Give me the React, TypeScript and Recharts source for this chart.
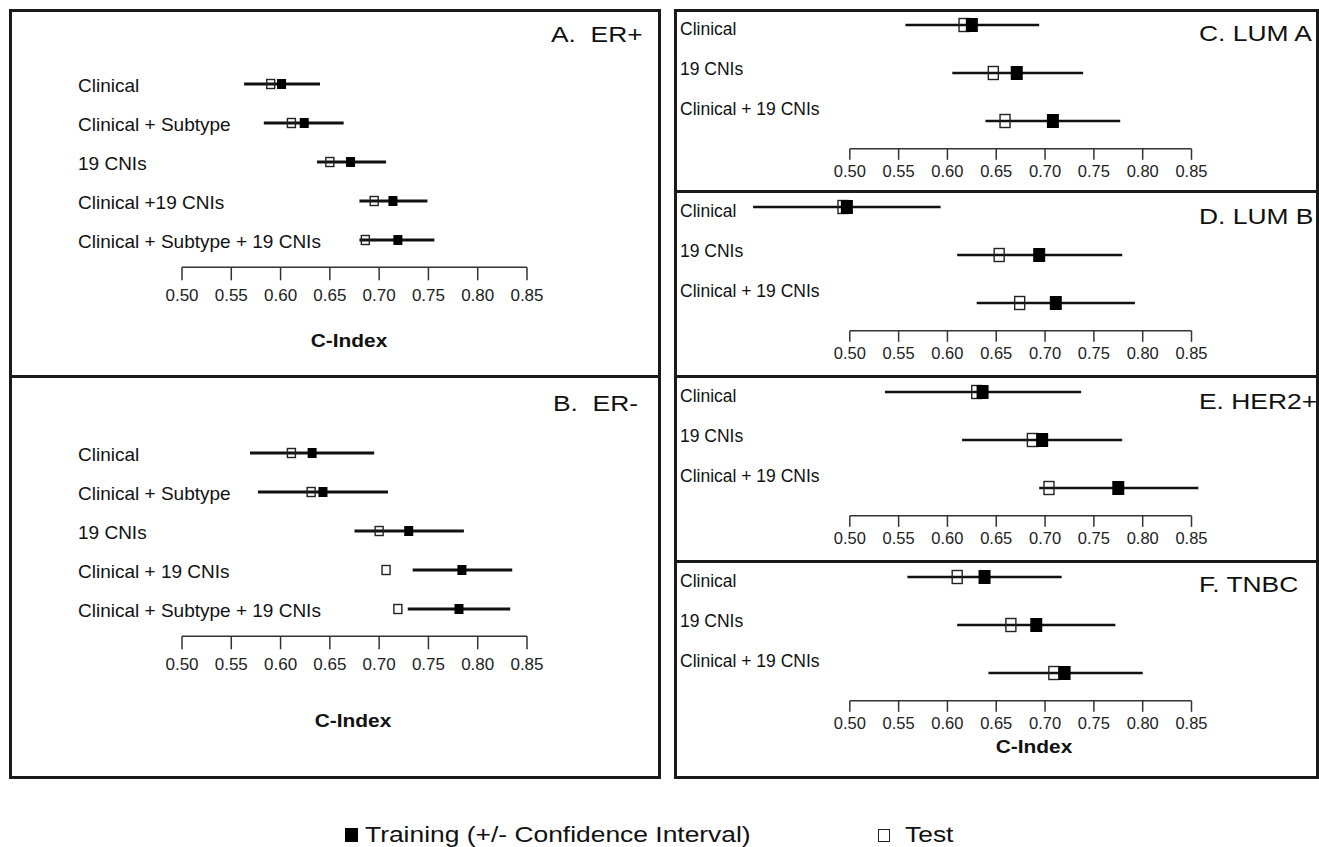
import React from "react"
import { ScatterChart, Scatter, XAxis, YAxis, ErrorBar, ReferenceLine } from "recharts"

const FONT = '"Liberation Sans", Arial, Helvetica, sans-serif'
const INK = "#1a1a1a"

const cTicks = [0.5, 0.55, 0.6, 0.65, 0.7, 0.75, 0.8, 0.85]

// A. ER+
const erPosRows = ["Clinical", "Clinical + Subtype", "19 CNIs", "Clinical +19 CNIs", "Clinical + Subtype + 19 CNIs"]
const erPosTrain = [0.601, 0.624, 0.671, 0.714, 0.719]
const erPosLow = [0.563, 0.583, 0.637, 0.68, 0.68]
const erPosHigh = [0.64, 0.664, 0.707, 0.749, 0.756]
const erPosTest = [0.59, 0.611, 0.65, 0.695, 0.686]

// B. ER-
const erNegRows = ["Clinical", "Clinical + Subtype", "19 CNIs", "Clinical + 19 CNIs", "Clinical + Subtype + 19 CNIs"]
const erNegTrain = [0.632, 0.643, 0.73, 0.784, 0.781]
const erNegLow = [0.569, 0.577, 0.675, 0.734, 0.729]
const erNegHigh = [0.695, 0.709, 0.786, 0.835, 0.833]
const erNegTest = [0.611, 0.631, 0.7, 0.707, 0.719]

// subtype panels share the row labels
const subRows = ["Clinical", "19 CNIs", "Clinical + 19 CNIs"]

// C. LUM A
const lumATrain = [0.625, 0.671, 0.708]
const lumALow = [0.557, 0.605, 0.639]
const lumAHigh = [0.694, 0.739, 0.777]
const lumATest = [0.617, 0.647, 0.659]

// D. LUM B
const lumBTrain = [0.497, 0.694, 0.711]
const lumBLow = [0.401, 0.61, 0.63]
const lumBHigh = [0.593, 0.779, 0.792]
const lumBTest = [0.493, 0.653, 0.674]

// E. HER2+
const her2Train = [0.636, 0.697, 0.775]
const her2Low = [0.536, 0.615, 0.694]
const her2High = [0.737, 0.779, 0.857]
const her2Test = [0.63, 0.687, 0.704]

// F. TNBC
const tnbcTrain = [0.638, 0.691, 0.72]
const tnbcLow = [0.559, 0.61, 0.642]
const tnbcHigh = [0.717, 0.772, 0.8]
const tnbcTest = [0.61, 0.665, 0.709]

// geometry of the two columns (page pixels)
const leftCol = { x: 10, w: 650, axis0: 182, perUnit: 985.7, domain: [0.4, 0.95], labelX: 78 }
const rightCol = { x: 675, w: 642, axis0: 849.8, perUnit: 976.3, domain: [0.35, 0.9], labelX: 680 }

type Col = typeof leftCol

type PanelProps = {
  col: Col
  top: number
  height: number
  rows: string[]
  train: number[]
  low: number[]
  high: number[]
  test: number[]
  title: string
  titleX: number
  titleBase: number
  row0: number
  spacing: number
  yDomain: [number, number]
  axisH: number
  labelSize: number
  labelShift: (i: number) => number
  tickSize: number
  tickGap: number
  tickFont: number
  sq: { ow: number; oh: number; fw: number; fh: number }
  lineW: number
  cIndex?: { x: number; base: number }
}

function ForestPanel(p: PanelProps) {
  const { col } = p
  const plotLeft = col.axis0 - col.x + (col.domain[0] - 0.5) * col.perUnit
  const plotRight = col.axis0 - col.x + (col.domain[1] - 0.5) * col.perUnit
  const plotH = (p.yDomain[1] - p.yDomain[0]) * p.spacing
  const marginTop = p.row0 + p.yDomain[0] * p.spacing
  const marginBottom = p.height - marginTop - plotH - p.axisH

  const trainData = p.rows.map((_, i) => ({
    row: i,
    c: p.train[i],
    ci: [p.train[i] - p.low[i], p.high[i] - p.train[i]],
  }))
  const testData = p.rows.map((_, i) => ({ row: i, c: p.test[i] }))

  const renderLabel = (props: any) => {
    const i = props.payload.value
    return (
      <text
        x={col.labelX - col.x}
        y={props.y + p.labelShift(i)}
        dy="0.36em"
        textAnchor="start"
        fontSize={p.labelSize}
        fontFamily={FONT}
        fill="#111"
      >
        {p.rows[i]}
      </text>
    )
  }

  const hollow = (props: any) => (
    <rect
      x={props.cx - p.sq.ow / 2}
      y={props.cy - p.sq.oh / 2}
      width={p.sq.ow}
      height={p.sq.oh}
      fill="none"
      stroke="#222"
      strokeWidth={1.4}
    />
  )
  const filled = (props: any) => (
    <rect
      x={props.cx - p.sq.fw / 2}
      y={props.cy - p.sq.fh / 2}
      width={p.sq.fw}
      height={p.sq.fh}
      fill="#000"
    />
  )

  return (
    <div style={{ position: "absolute", left: col.x, top: p.top, width: col.w, height: p.height }}>
      <ScatterChart
        width={col.w}
        height={p.height}
        margin={{ top: marginTop, right: col.w - plotRight, bottom: marginBottom, left: 0 }}
      >
        <XAxis
          type="number"
          dataKey="c"
          domain={col.domain}
          ticks={cTicks}
          interval={0}
          tickFormatter={(v: number) => v.toFixed(2)}
          axisLine={false}
          tickLine={{ stroke: "#333", strokeWidth: 1.5 }}
          tickSize={p.tickSize}
          tickMargin={p.tickGap}
          height={p.axisH}
          tick={{ fill: "#222", fontSize: p.tickFont, fontFamily: FONT }}
        />
        <YAxis
          type="number"
          dataKey="row"
          domain={p.yDomain}
          reversed
          ticks={p.rows.map((_, i) => i)}
          interval={0}
          width={plotLeft}
          axisLine={false}
          tickLine={false}
          tick={renderLabel}
        />
        <ReferenceLine
          segment={[
            { x: 0.5, y: p.yDomain[1] },
            { x: 0.85, y: p.yDomain[1] },
          ]}
          stroke="#333"
          strokeWidth={1.5}
          ifOverflow="visible"
        />
        <Scatter data={testData} shape={hollow} isAnimationActive={false} />
        <Scatter data={trainData} shape={filled} isAnimationActive={false}>
          <ErrorBar dataKey="ci" direction="x" width={0} stroke="#111" strokeWidth={p.lineW} />
        </Scatter>
      </ScatterChart>
      <div
        style={{
          position: "absolute",
          left: p.titleX - col.x,
          top: p.titleBase - p.top - 18.6,
          fontFamily: FONT,
          fontSize: 22,
          lineHeight: "22px",
          whiteSpace: "pre",
          color: "#111",
          transform: "scaleX(1.2)",
          transformOrigin: "left center",
        }}
      >
        {p.title}
      </div>
      {p.cIndex && (
        <div
          style={{
            position: "absolute",
            left: p.cIndex.x - col.x - 60,
            width: 120,
            textAlign: "center",
            top: p.cIndex.base - p.top - 16.1,
            fontFamily: FONT,
            fontWeight: "bold",
            fontSize: 19,
            lineHeight: "19px",
            color: "#111",
            transform: "scaleX(1.1)",
          }}
        >
          C-Index
        </div>
      )}
    </div>
  )
}

const leftShared = {
  col: leftCol,
  spacing: 39,
  yDomain: [-0.5, 4.7] as [number, number],
  labelSize: 19,
  labelShift: () => 1,
  tickSize: 13,
  tickGap: 9,
  tickFont: 17,
  sq: { ow: 8, oh: 9, fw: 9, fh: 10 },
  lineW: 2.8,
}

const rightShared = {
  col: rightCol,
  spacing: 48,
  yDomain: [-0.25, 2.58] as [number, number],
  row0: 15,
  labelSize: 17.5,
  labelShift: (i: number) => 4 - 8 * i,
  tickSize: 11,
  tickGap: 5,
  tickFont: 16.5,
  sq: { ow: 10, oh: 13, fw: 12, fh: 14 },
  lineW: 2.6,
}

const legendText = {
  position: "absolute" as const,
  top: 824,
  fontFamily: FONT,
  fontSize: 22,
  lineHeight: "22px",
  color: "#111",
  whiteSpace: "nowrap" as const,
  transform: "scaleX(1.2)",
  transformOrigin: "left center",
}

export default function App() {
  return (
    <div style={{ position: "absolute", left: 0, top: 0, width: 1319, height: 847, background: "#fff" }}>
      <ForestPanel
        {...leftShared}
        top={10}
        height={367}
        row0={74}
        axisH={80}
        rows={erPosRows}
        train={erPosTrain}
        low={erPosLow}
        high={erPosHigh}
        test={erPosTest}
        title={"A.  ER+"}
        titleX={551}
        titleBase={43}
        cIndex={{ x: 349, base: 347 }}
      />
      <ForestPanel
        {...leftShared}
        top={377}
        height={401}
        row0={76}
        axisH={91}
        rows={erNegRows}
        train={erNegTrain}
        low={erNegLow}
        high={erNegHigh}
        test={erNegTest}
        title={"B.  ER-"}
        titleX={553}
        titleBase={412}
        cIndex={{ x: 353, base: 727 }}
      />
      <ForestPanel
        {...rightShared}
        top={10}
        height={182}
        axisH={30}
        rows={subRows}
        train={lumATrain}
        low={lumALow}
        high={lumAHigh}
        test={lumATest}
        title="C. LUM A"
        titleX={1199}
        titleBase={42}
      />
      <ForestPanel
        {...rightShared}
        top={192}
        height={185}
        axisH={30}
        rows={subRows}
        train={lumBTrain}
        low={lumBLow}
        high={lumBHigh}
        test={lumBTest}
        title="D. LUM B"
        titleX={1199}
        titleBase={225}
      />
      <ForestPanel
        {...rightShared}
        top={377}
        height={185}
        axisH={30}
        rows={subRows}
        train={her2Train}
        low={her2Low}
        high={her2High}
        test={her2Test}
        title="E. HER2+"
        titleX={1199}
        titleBase={410}
      />
      <ForestPanel
        {...rightShared}
        top={562}
        height={216}
        axisH={52}
        rows={subRows}
        train={tnbcTrain}
        low={tnbcLow}
        high={tnbcHigh}
        test={tnbcTest}
        title="F. TNBC"
        titleX={1199}
        titleBase={593}
        cIndex={{ x: 1034, base: 753 }}
      />

      {/* frames */}
      <div style={{ position: "absolute", left: 9, top: 9, width: 652, height: 770, border: `3px solid ${INK}`, boxSizing: "border-box" }} />
      <div style={{ position: "absolute", left: 9, top: 375, width: 652, height: 3, background: INK }} />
      <div style={{ position: "absolute", left: 674, top: 9, width: 645, height: 770, border: `3px solid ${INK}`, boxSizing: "border-box" }} />
      <div style={{ position: "absolute", left: 674, top: 190, width: 645, height: 3, background: INK }} />
      <div style={{ position: "absolute", left: 674, top: 375, width: 645, height: 3, background: INK }} />
      <div style={{ position: "absolute", left: 674, top: 560, width: 645, height: 3, background: INK }} />

      {/* legend */}
      <div style={{ position: "absolute", left: 345, top: 828, width: 13, height: 14, background: "#000" }} />
      <div style={{ ...legendText, left: 365 }}>Training (+/- Confidence Interval)</div>
      <div style={{ position: "absolute", left: 878, top: 829, width: 12, height: 13, border: "1.5px solid #222", boxSizing: "border-box" }} />
      <div style={{ ...legendText, left: 905 }}>Test</div>
    </div>
  )
}
